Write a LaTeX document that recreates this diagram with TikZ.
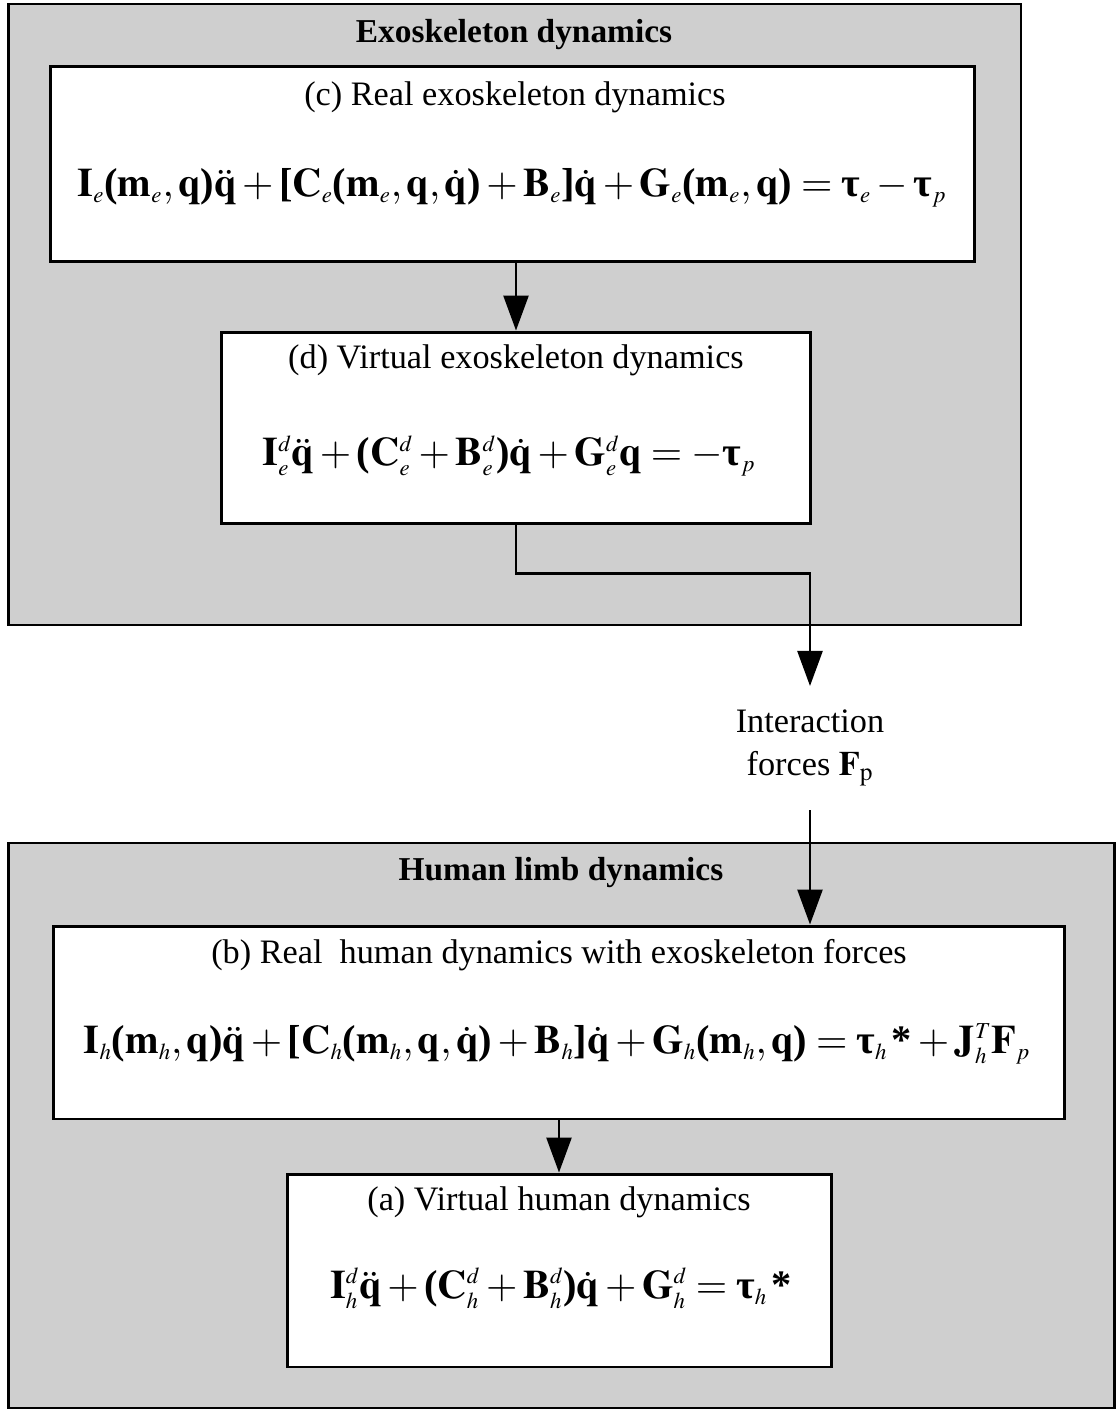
\documentclass[tikz,border=0pt]{standalone}
\usepackage{mathptmx}
\usepackage{fontspec}
\setmainfont{Liberation Serif}
\usetikzlibrary{arrows.meta,positioning}
\DeclareMathSizes{23}{23}{13}{10}
\newcommand{\bt}{\mbox{\bfseries τ}}
\newcommand{\bst}{\mbox{\bfseries *}}
\newcommand{\lpar}{\mathopen{\mbox{\bfseries(}}}
\newcommand{\rpar}{\mathclose{\mbox{\bfseries)}}}
\newcommand{\lbrk}{\mathopen{\mbox{\bfseries[}}}
\newcommand{\rbrk}{\mathclose{\mbox{\bfseries]}}}
\newcommand{\vq}{\mathbf{q}}
\begin{document}
\begin{tikzpicture}[x=0.02cm,y=-0.02cm,line join=miter,>={Triangle[length=0.7cm,width=0.5cm]}]
	\tikzset{outerbox/.style={draw,line width=1.6pt,fill=black!19,inner sep=0pt},
		innerbox/.style={draw,line width=1.7pt,fill=white,inner sep=0pt},
		caption/.style={font=\fontsize{19.5}{24.5}\selectfont},
		heading/.style={font=\bfseries\fontsize{19}{22}\selectfont},
		equation/.style={font=\fontsize{23}{28}\selectfont},
		flow/.style={->,line width=1.4pt}}
	\useasboundingbox (0,0) rectangle (1119,1411);
	% exoskeleton dynamics
	\node[outerbox,minimum width=20.26cm,minimum height=12.42cm] (exo) at (514.5,314.5) {};
	\node[heading] (exo title) at (514,35) {Exoskeleton dynamics};
	\node[innerbox,minimum width=18.5cm,minimum height=3.92cm] (real exo) at (512.5,164) {};
	\node[caption] (real exo cap) at (515,97) {(c) Real exoskeleton dynamics};
	\node[equation] (real exo eq) at (512,188) {$\mathbf{I}_e\lpar\mathbf{m}_e,\vq\rpar\ddot{\vq}+\lbrk\mathbf{C}_e\lpar\mathbf{m}_e,\vq,\dot{\vq}\rpar+\mathbf{B}_e\rbrk\dot{\vq}+\mathbf{G}_e\lpar\mathbf{m}_e,\vq\rpar=\bt_e-\bt_p$};
	\node[innerbox,minimum width=11.8cm,minimum height=3.84cm] (virt exo) at (516,428) {};
	\node[caption] (virt exo cap) at (516,360) {(d) Virtual exoskeleton dynamics};
	\node[equation] (virt exo eq) at (509,456) {$\mathbf{I}_e^d\ddot{\vq}+\lpar\mathbf{C}_e^d+\mathbf{B}_e^d\rpar\dot{\vq}+\mathbf{G}_e^d\vq=-\bt_p$};
	% interaction
	\node[caption,align=center,inner sep=0.47cm] (inter) at (810,748) {Interaction\\forces $\mathbf{F}_\mathrm{p}$};
	% human limb dynamics
	\node[outerbox,minimum width=22.14cm,minimum height=11.3cm] (limb) at (561.5,1125.5) {};
	\node[heading] (limb title) at (561,873) {Human limb dynamics};
	\node[innerbox,minimum width=20.24cm,minimum height=3.86cm] (real hum) at (559,1022.5) {};
	\node[caption] (real hum cap) at (559,955) {(b) Real~ human dynamics with exoskeleton forces};
	\node[equation] (real hum eq) at (557,1044) {$\mathbf{I}_h\lpar\mathbf{m}_h,\vq\rpar\ddot{\vq}+\lbrk\mathbf{C}_h\lpar\mathbf{m}_h,\vq,\dot{\vq}\rpar+\mathbf{B}_h\rbrk\dot{\vq}+\mathbf{G}_h\lpar\mathbf{m}_h,\vq\rpar=\bt_h\,\bst+\mathbf{J}_h^T\mathbf{F}_p$};
	\node[innerbox,minimum width=10.9cm,minimum height=3.86cm] (virt hum) at (559.5,1270.5) {};
	\node[caption] (virt hum cap) at (559,1202) {(a) Virtual human dynamics};
	\node[equation] (virt hum eq) at (561,1288) {$\mathbf{I}_h^d\ddot{\vq}+\lpar\mathbf{C}_h^d+\mathbf{B}_h^d\rpar\dot{\vq}+\mathbf{G}_h^d=\bt_h\,\bst$};
	% connectors
	\draw[flow] (real exo.south -| virt exo.north) -- (virt exo.north);
	\draw[flow] (virt exo.south) -- ++(0,48) -| (inter.north);
	\draw[flow] (inter.south) -- (inter.south |- real hum.north);
	\draw[flow] (real hum.south) -- (real hum.south |- virt hum.north);
\end{tikzpicture}
\end{document}
